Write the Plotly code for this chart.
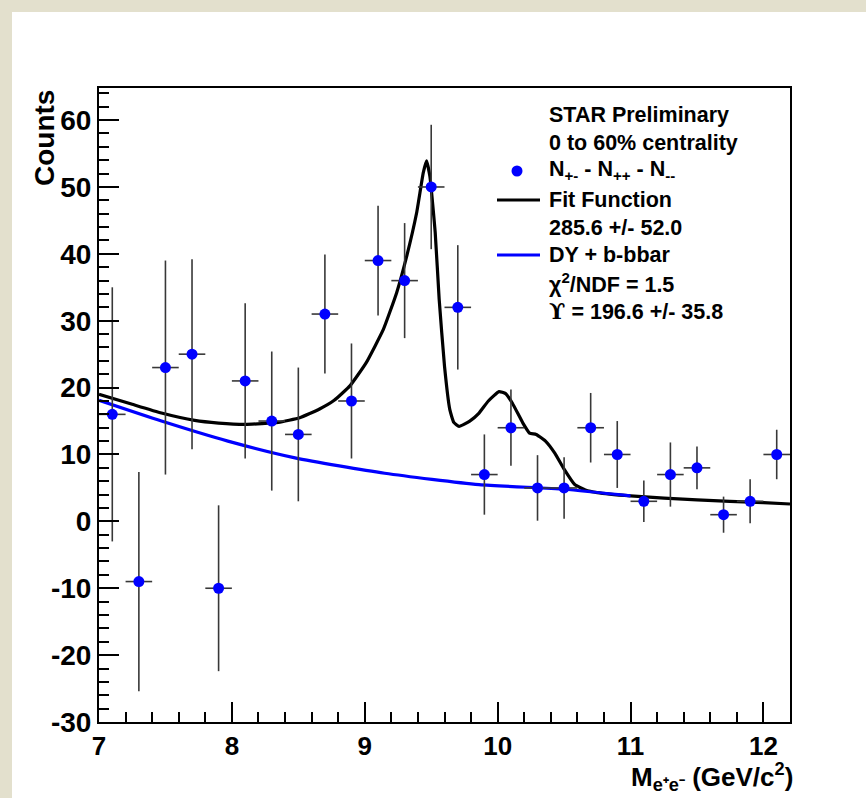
import plotly.graph_objects as go

# ---------------- data ----------------
bin_centers = [7.1, 7.3, 7.5, 7.7, 7.9, 8.1, 8.3, 8.5, 8.7, 8.9, 9.1, 9.3, 9.5,
               9.7, 9.9, 10.1, 10.3, 10.5, 10.7, 10.9, 11.1, 11.3, 11.5, 11.7,
               11.9, 12.1]
counts = [16, -9, 23, 25, -10, 21, 15, 13, 31, 18, 39, 36, 50,
          32, 7, 14, 5, 5, 14, 10, 3, 7, 8, 1, 3, 10]
count_err = [19.0, 16.4, 16.0, 14.2, 12.4, 11.6, 10.4, 10.0, 8.9, 8.6, 8.2, 8.6, 9.3,
             9.3, 6.0, 5.7, 4.9, 4.6, 5.2, 5.0, 3.1, 4.8, 3.2, 2.7, 3.3, 3.7]
bin_half_width = [0.1] * len(bin_centers)

fit_x = [7.00, 7.25, 7.47, 7.72, 7.90, 8.10, 8.35, 8.51, 8.66, 8.77, 8.89, 9.01,
         9.14, 9.24, 9.31, 9.39, 9.44, 9.465, 9.49, 9.53, 9.56, 9.60, 9.64,
         9.67, 9.71, 9.79, 9.86, 9.93, 10.01, 10.06, 10.11, 10.19, 10.24,
         10.29, 10.36, 10.43, 10.50, 10.58, 10.66, 10.75, 11.00, 11.50, 12.00,
         12.20]
fit_y = [19.0, 17.5, 16.2, 15.1, 14.7, 14.5, 14.8, 15.5, 16.8, 18.1, 20.3, 23.7,
         28.7, 34.2, 39.2, 46.1, 52.1, 53.9, 51.6, 43.2, 33.2, 23.2, 16.7,
         14.8, 14.2, 15.0, 16.2, 18.0, 19.4, 19.1, 17.7, 14.7, 13.2,
         13.0, 12.0, 10.2, 7.8, 5.5, 4.7, 4.3, 3.8, 3.2, 2.8,
         2.6]

bkg_x = [7.00, 7.47, 7.97, 8.475, 9.15, 9.86, 10.50, 11.00]
bkg_y = [18.1, 15.0, 12.0, 9.5, 7.2, 5.5, 4.8, 3.8]

y_tickvals = [-30, -20, -10, 0, 10, 20, 30, 40, 50, 60]
y_ticktext = ["-30", "-20", "-10", "0", "10", "20", "30", "40", "50", "60"]
x_tickvals = [7, 8, 9, 10, 11, 12]
x_ticktext = ["7", "8", "9", "10", "11", "12"]

legend_lines = [
    "STAR Preliminary",
    "0 to 60% centrality",
    "N<sub>+-</sub> - N<sub>++</sub> - N<sub>--</sub>",
    "Fit Function",
    "285.6 +/- 52.0",
    "DY + b-bbar",
    "χ<sup>2</sup>/NDF = 1.5",
    "<span style=\"font-family:'DejaVu Serif'\">ϒ</span> = 196.6 +/- 35.8",
]

# ---------------- layout geometry ----------------
W, H = 866, 798
L, R, T, B = 99, 790, 88, 722
PW, PH = R - L, B - T


def px(xp):
    return (xp - L) / PW


def py(yp):
    return (B - yp) / PH


FONT = "Liberation Sans, Arial, Helvetica, sans-serif"

fig = go.Figure()

fig.add_trace(go.Scatter(
    x=fit_x, y=fit_y, mode="lines",
    line=dict(color="black", width=3.2, shape="spline", smoothing=0.4),
    showlegend=False, hoverinfo="skip"))

fig.add_trace(go.Scatter(
    x=bkg_x, y=bkg_y, mode="lines",
    line=dict(color="#0000FF", width=3.2, shape="spline", smoothing=0.6),
    showlegend=False, hoverinfo="skip"))

fig.add_trace(go.Scatter(
    x=bin_centers, y=counts, mode="markers",
    marker=dict(color="#0000FF", size=11, symbol="circle"),
    error_y=dict(type="data", array=count_err, color="#383838", thickness=1.6, width=0),
    error_x=dict(type="data", array=bin_half_width, color="#383838", thickness=1.6, width=0),
    showlegend=False))

shapes = [
    # beige page border, white page
    dict(type="rect", xref="paper", yref="paper", layer="below",
         x0=px(12), x1=px(W + 20), y0=py(H + 20), y1=py(12),
         fillcolor="white", line=dict(width=0)),
    # legend symbols
    dict(type="line", xref="paper", yref="paper",
         x0=px(497), x1=px(540), y0=py(200), y1=py(200),
         line=dict(color="black", width=3.2)),
    dict(type="line", xref="paper", yref="paper",
         x0=px(497), x1=px(540), y0=py(255), y1=py(255),
         line=dict(color="#0000FF", width=3.2)),
    dict(type="circle", xref="paper", yref="paper",
         xsizemode="pixel", ysizemode="pixel",
         xanchor=px(517), yanchor=py(171),
         x0=-5.5, x1=5.5, y0=-5.5, y1=5.5,
         fillcolor="#0000FF", line=dict(width=0)),
]

annotations = []
legend_y = [115, 143, 171, 200, 228, 255, 283, 311]
for txt, yy in zip(legend_lines, legend_y):
    annotations.append(dict(
        text=txt, xref="paper", yref="paper", x=px(547), y=py(yy),
        xanchor="left", yanchor="middle", showarrow=False,
        font=dict(family=FONT, size=21.5, color="black", weight="bold")))

annotations.append(dict(
    text="Counts", xref="paper", yref="paper", x=px(44), y=py(88),
    xanchor="center", yanchor="top", textangle=-90, showarrow=False,
    font=dict(family=FONT, size=28, color="black", weight="bold")))

annotations.append(dict(
    text="M<sub>e⁺e⁻</sub> (GeV/c<sup>2</sup>)", xref="paper", yref="paper",
    x=px(795), y=py(797), xanchor="right", yanchor="bottom", showarrow=False,
    font=dict(family=FONT, size=26, color="black", weight="bold")))

fig.update_layout(
    width=W, height=H,
    margin=dict(l=L, r=W - R, t=T, b=H - B, pad=0),
    paper_bgcolor="#E3E0CD",
    plot_bgcolor="white",
    shapes=shapes,
    annotations=annotations,
    showlegend=False,
)

fig.update_xaxes(
    range=[7, 12.2], showgrid=False, zeroline=False,
    showline=True, linecolor="black", linewidth=2, mirror=True,
    ticks="inside", ticklen=20, tickwidth=1.5, tickcolor="black",
    tickvals=x_tickvals, ticktext=x_ticktext,
    minor=dict(ticks="inside", dtick=0.2, tick0=7, ticklen=10, tickwidth=1.5, tickcolor="black"),
    tickfont=dict(family=FONT, size=26, color="black", weight="bold"),
)
fig.update_yaxes(
    range=[-30, 64.8], showgrid=False, zeroline=False,
    showline=True, linecolor="black", linewidth=2, mirror=True,
    ticks="inside", ticklen=20, tickwidth=1.5, tickcolor="black",
    tickvals=y_tickvals, ticktext=y_ticktext,
    minor=dict(ticks="inside", dtick=2, tick0=0, ticklen=10, tickwidth=1.5, tickcolor="black"),
    tickfont=dict(family=FONT, size=28, color="black", weight="bold"),
)

fig.write_html("out.html")
